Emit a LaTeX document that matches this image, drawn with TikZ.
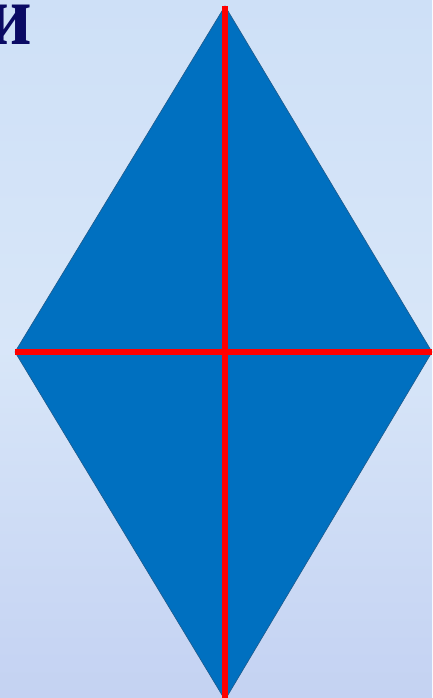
\documentclass[tikz,border=0pt]{standalone}
\usepackage{fontspec}
\setmainfont{Liberation Serif}
\definecolor{bgA}{RGB}{206,224,247}
\definecolor{bgB}{RGB}{196,210,242}
\definecolor{rhomb}{RGB}{0,112,192}
\definecolor{rhombedge}{RGB}{30,90,140}
\definecolor{navy}{RGB}{10,10,100}
\begin{document}
\begin{tikzpicture}[x=1pt,y=1pt,
  diag/.style={draw=red,line width=5.5pt},
  lbl/.style={text=navy,font=\bfseries\fontsize{86}{86}\selectfont,inner sep=0pt,anchor=base west}]
\useasboundingbox (0,0) rectangle (432,698);
\shade[top color=bgA,bottom color=bgB,middle color=bgA!80!white] (0,0) rectangle (432,698);
\coordinate (T) at (225,692);
\coordinate (L) at (15,346);
\coordinate (R) at (432,346);
\coordinate (B) at (225,-2);
\fill[rhomb,draw=rhombedge,line width=0.6pt] (T) -- (R) -- (B) -- (L) -- cycle;
\draw[diag] (T) -- (B);
\draw[diag] (L) -- (R);
\node[lbl,xscale=0.9] (txt) at (-13,653) {и};
\end{tikzpicture}
\end{document}
